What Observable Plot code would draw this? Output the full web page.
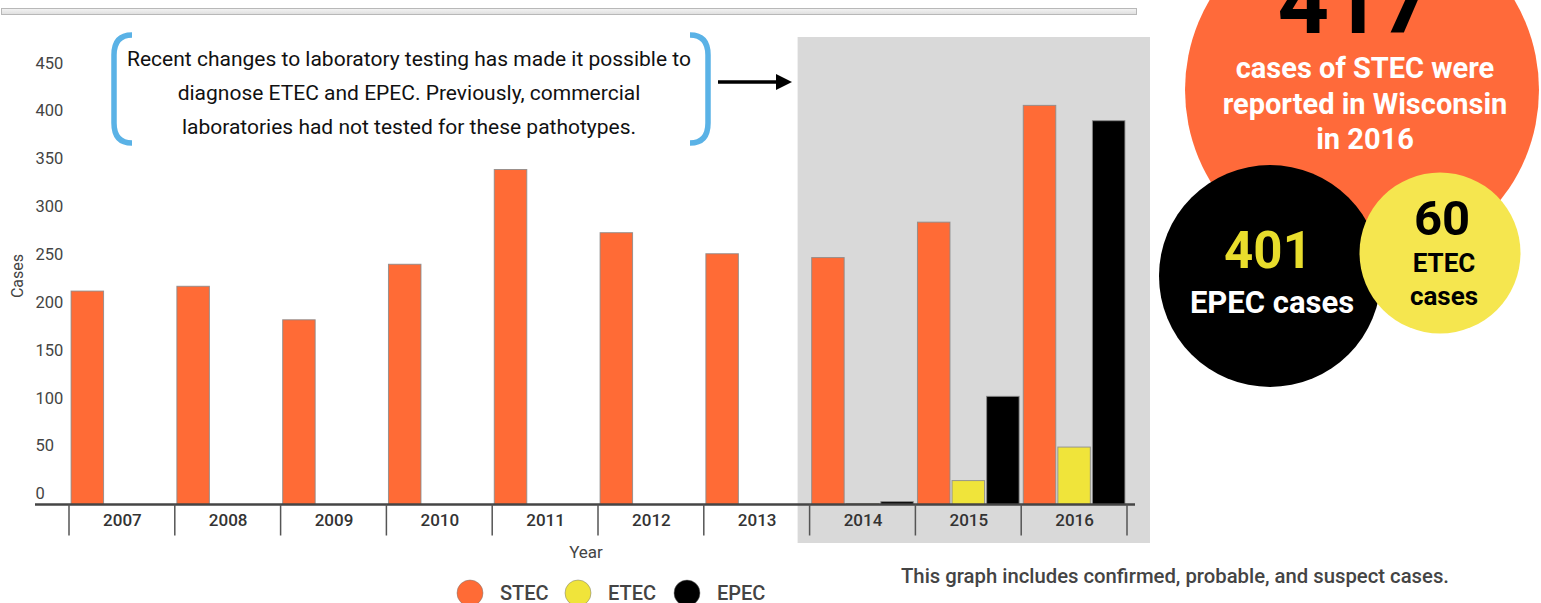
<!DOCTYPE html>
<html>
<head>
<meta charset="utf-8">
<script src="https://cdn.jsdelivr.net/npm/d3@7"></script>
<script src="https://cdn.jsdelivr.net/npm/@observablehq/plot@0.6"></script>
<style>
  body { margin: 0; background: #fff; font-family: Roboto, sans-serif; }
  #wrap { position: relative; width: 1541px; height: 603px; overflow: hidden; background: #fff; }
  #wrap > svg { position: absolute; left: 0; top: 0; }
  #wrap [aria-label^="fx-axis"] text { font-weight: 500; fill: #333; }
</style>
</head>
<body>
<div id="wrap"></div>
<script>
// ---- data ----
const years = ["2007", "2008", "2009", "2010", "2011", "2012", "2013", "2014", "2015", "2016"];
const seriesNames = ["STEC", "ETEC", "EPEC"];
const stec = [223, 228, 193, 251, 350, 284, 262, 258, 295, 417];
const etec = [0, 0, 0, 0, 0, 0, 0, 1, 25, 60];
const epec = [0, 0, 0, 0, 0, 0, 0, 3, 113, 401];
const seriesColors = ["#ff6b36", "#f0e43a", "#000000"];
const yTicks = [0, 50, 100, 150, 200, 250, 300, 350, 400, 450];
const yLabel = "Cases";
const xLabel = "Year";
const annotationLines = [
  "Recent changes to laboratory testing has made it possible to",
  "diagnose ETEC and EPEC. Previously, commercial",
  "laboratories had not tested for these pathotypes."
];
const captionText = "This graph includes confirmed, probable, and suspect cases.";
const stecTotal = "417";
const stecLines = ["cases of STEC were", "reported in Wisconsin", "in 2016"];
const epecTotal = "401";
const epecLine = "EPEC cases";
const etecTotal = "60";
const etecLines = ["ETEC", "cases"];

const table = years.flatMap((year, i) => [
  {year, series: "STEC", value: stec[i]},
  {year, series: "ETEC", value: etec[i]},
  {year, series: "EPEC", value: epec[i]}
]);

const W = 1541, H = 603;
const wrap = document.getElementById("wrap");

// ---- background layer ----
const bg = d3.create("svg").attr("width", W).attr("height", H);
const grad = bg.append("defs").append("linearGradient").attr("id", "sb").attr("x1", 0).attr("y1", 0).attr("x2", 0).attr("y2", 1);
grad.append("stop").attr("offset", 0).attr("stop-color", "#f4f4f4");
grad.append("stop").attr("offset", 1).attr("stop-color", "#dedede");
bg.append("rect").attr("x", 1.5).attr("y", 8.5).attr("width", 1135).attr("height", 6)
  .attr("fill", "url(#sb)").attr("stroke", "#b8b8b8").attr("stroke-width", 1);
wrap.appendChild(bg.node());

// ---- chart ----
const plot = Plot.plot({
  width: W,
  height: H,
  marginLeft: 69,
  marginRight: 414,
  marginTop: 73.8,
  marginBottom: 98.5,
  style: {background: "transparent", fontFamily: "Roboto, sans-serif", fontSize: "17px", color: "#333", overflow: "visible"},
  fx: {domain: years, padding: 0, round: false, axis: "bottom", tickSize: 0, tickPadding: 9, label: null},
  x: {domain: seriesNames, padding: 0.06, round: false, axis: null},
  y: {domain: [0, 450], axis: null},
  color: {domain: seriesNames, range: seriesColors},
  marks: [
    Plot.barY(table, {fx: "year", x: "series", y: "value", fill: "series", stroke: "#8a8a8a", strokeWidth: 1, strokeOpacity: 0.85}),
    Plot.text(yTicks, {fx: () => years[0], y: d => d, text: d => String(d), frameAnchor: "left", textAnchor: "start", dx: -34, dy: -11, fill: "#444", fontSize: 16.5})
  ]
});

const fxS = plot.scale("fx");
const yS = plot.scale("y");
const pIn = fxS.paddingInner ?? fxS.padding ?? 0;
const pOut = fxS.paddingOuter ?? fxS.padding ?? 0;
const fxScale = d3.scaleBand(fxS.domain, fxS.range).paddingInner(pIn).paddingOuter(pOut).align(fxS.align ?? 0.5);
const yScale = d3.scaleLinear(yS.domain, yS.range);
const y0 = yScale(0);
const bw = fxScale.bandwidth();
const edges = years.map(y => fxScale(y)).concat([fxScale(years[years.length - 1]) + bw]);

// highlight band behind 2014-2016
bg.append("rect")
  .attr("x", fxScale("2014") - 12).attr("y", 37)
  .attr("width", edges[edges.length - 1] - fxScale("2014") + 35).attr("height", 506)
  .attr("fill", "#d9d9d9");

wrap.appendChild(plot);

// ---- foreground layer ----
const fg = d3.create("svg").attr("width", W).attr("height", H).style("pointer-events", "none");

// baseline and category boundary ticks
fg.append("line").attr("x1", 35).attr("x2", edges[edges.length - 1] + 8).attr("y1", y0).attr("y2", y0)
  .attr("stroke", "#454545").attr("stroke-width", 2.5);
fg.selectAll("line.tk").data(edges).join("line").attr("class", "tk")
  .attr("x1", d => d).attr("x2", d => d).attr("y1", y0).attr("y2", y0 + 31)
  .attr("stroke", "#555").attr("stroke-width", 1.5);

// axis titles
fg.append("text").attr("transform", "translate(17.5,276) rotate(-90)").attr("text-anchor", "middle")
  .attr("dy", "0.35em").attr("font-size", 16).attr("fill", "#444").text(yLabel);
fg.append("text").attr("x", 586).attr("y", 558).attr("text-anchor", "middle")
  .attr("font-size", 17).attr("fill", "#444").text(xLabel);

// annotation brackets
fg.append("path").attr("d", "M132,35 Q114,35 114,55 L114,123 Q114,143 132,143")
  .attr("fill", "none").attr("stroke", "#5ab2e6").attr("stroke-width", 5.5);
fg.append("path").attr("d", "M690,35 Q708,35 708,55 L708,123 Q708,143 690,143")
  .attr("fill", "none").attr("stroke", "#5ab2e6").attr("stroke-width", 5.5);
fg.selectAll("text.ann").data(annotationLines).join("text").attr("class", "ann")
  .attr("x", 409).attr("y", (d, i) => 66 + i * 34).attr("text-anchor", "middle")
  .attr("font-size", 21).attr("fill", "#111").text(d => d);
// arrow
fg.append("line").attr("x1", 718).attr("x2", 778).attr("y1", 82).attr("y2", 82)
  .attr("stroke", "#000").attr("stroke-width", 3.5);
fg.append("path").attr("d", "M776,74 L792,82 L776,90 Z").attr("fill", "#000");

// bubbles
fg.append("circle").attr("cx", 1362).attr("cy", 90).attr("r", 177).attr("fill", "#ff6a3a");
fg.append("text").attr("x", 1355).attr("y", 33).attr("text-anchor", "middle")
  .attr("font-size", 90).attr("font-weight", 700).attr("fill", "#000").text(stecTotal);
fg.selectAll("text.st").data(stecLines).join("text").attr("class", "st")
  .attr("x", 1365).attr("y", (d, i) => 78 + i * 35.5).attr("text-anchor", "middle")
  .attr("font-size", 29).attr("font-weight", 700).attr("fill", "#fff").text(d => d);

fg.append("circle").attr("cx", 1270).attr("cy", 276).attr("r", 111).attr("fill", "#000");
fg.append("text").attr("x", 1268).attr("y", 268).attr("text-anchor", "middle")
  .attr("font-size", 51).attr("font-weight", 700).attr("fill", "#e8dd2c").text(epecTotal);
fg.append("text").attr("x", 1272).attr("y", 313).attr("text-anchor", "middle")
  .attr("font-size", 31).attr("font-weight", 700).attr("fill", "#fff").text(epecLine);

fg.append("circle").attr("cx", 1440).attr("cy", 253).attr("r", 80.5).attr("fill", "#f5e64f");
fg.append("text").attr("x", 1442).attr("y", 235).attr("text-anchor", "middle")
  .attr("font-size", 49).attr("font-weight", 700).attr("fill", "#000").text(etecTotal);
fg.selectAll("text.et").data(etecLines).join("text").attr("class", "et")
  .attr("x", 1444).attr("y", (d, i) => 272 + i * 33).attr("text-anchor", "middle")
  .attr("font-size", 26).attr("font-weight", 700).attr("fill", "#000").text(d => d);

// legend
const legX = [470, 578, 687];
const lg = fg.selectAll("g.lg").data(seriesNames).join("g").attr("class", "lg")
  .attr("transform", (d, i) => `translate(${legX[i]},593)`);
lg.append("circle").attr("r", 13).attr("fill", (d, i) => seriesColors[i])
  .attr("stroke", "#777").attr("stroke-opacity", 0.5).attr("stroke-width", 1);
lg.append("text").attr("x", 30).attr("y", 7).attr("font-size", 20).attr("font-weight", 500)
  .attr("fill", "#444").text(d => d);

// caption
fg.append("text").attr("x", 901).attr("y", 583).attr("font-size", 20.3).attr("font-weight", 500)
  .attr("fill", "#444").text(captionText);

wrap.appendChild(fg.node());
</script>
</body>
</html>
